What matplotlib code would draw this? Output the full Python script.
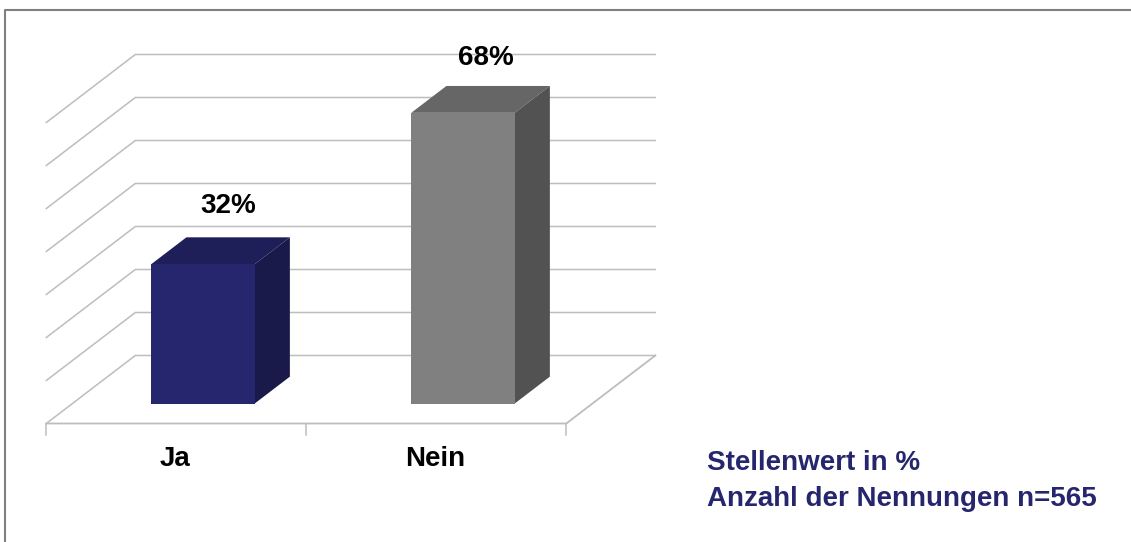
import matplotlib
matplotlib.use('Agg')
import matplotlib.pyplot as plt
from matplotlib.lines import Line2D
from matplotlib.patches import Polygon

categories = ['Ja', 'Nein']
values = [32.4, 67.6]
labels = ['32%', '68%']
grid_values = [0, 10, 20, 30, 40, 50, 60, 70]
front_colors = ['#26266E', '#808080']
top_colors = ['#1E1E58', '#666666']
side_colors = ['#1A1A4A', '#525252']

W, H = 1131, 542
plt.rcParams['font.family'] = ['Liberation Sans', 'DejaVu Sans']

fig = plt.figure(figsize=(W / 100, H / 100), dpi=100)

# axes box is the front plane of the fake 3d chart
ax = fig.add_axes([46.3 / W, 1 - 423.5 / H, 520 / W, 301 / H])
ax.set_xlim(0, 2)
ax.set_ylim(0, 70)
ax.axis('off')

# depth of the floor in data units
dx = 89 / 260
dy = 68 / 4.3
grid_col = '#BDBDBD'
floor_col = '#BDBDBD'

# gridlines: slanted on the left wall, flat along the back
for v in grid_values:
    ax.plot([0, dx, 2 + dx], [v, v + dy, v + dy], color=grid_col, lw=1.1, clip_on=False,
            solid_joinstyle='miter', zorder=1)

# floor
ax.plot([0, 2, 2 + dx], [0, 0, dy], color=floor_col, lw=1.3, clip_on=False, zorder=1)
for x in [0, 1, 2]:
    ax.plot([x, x], [0, -2.6], color=floor_col, lw=1.1, clip_on=False, zorder=1)

# bars sit part way into the floor
bar_w = 0.398
depth_start = 0.294
depth_size = 0.395
label_gap = [7.3, 6.4]
label_shift = [0.098, 0.088]
for i, v in enumerate(values):
    x0 = i + 0.5 - bar_w / 2 + depth_start * dx + 0.002
    x1 = x0 + bar_w
    y0 = depth_start * dy
    y1 = y0 + v
    ox = depth_size * dx
    oy = depth_size * dy
    ax.add_patch(Polygon([(x0, y1), (x1, y1), (x1 + ox, y1 + oy), (x0 + ox, y1 + oy)],
                         fc=top_colors[i], ec='none', clip_on=False, zorder=3))
    ax.add_patch(Polygon([(x1, y0), (x1 + ox, y0 + oy), (x1 + ox, y1 + oy), (x1, y1)],
                         fc=side_colors[i], ec='none', clip_on=False, zorder=3))
    ax.add_patch(Polygon([(x0, y0), (x1, y0), (x1, y1), (x0, y1)],
                         fc=front_colors[i], ec='none', clip_on=False, zorder=4))
    ax.text(x0 + bar_w / 2 + label_shift[i], y1 + oy + label_gap[i], labels[i], ha='center', va='center',
            fontsize=20, fontweight='bold', color='black', zorder=5)
    ax.text(i + 0.5 - 0.006, -8.3, categories[i],
            ha='center', va='center', fontsize=20, fontweight='bold', color='black')

fig.text(707 / W, 1 - 463.5 / H, 'Stellenwert in %', ha='left', va='center',
         fontsize=20, fontweight='bold', color='#26266E')
fig.text(707 / W, 1 - 498.5 / H, 'Anzahl der Nennungen n=565', ha='left', va='center',
         fontsize=20, fontweight='bold', color='#26266E')

# outer frame of the screenshot
fig.add_artist(Line2D([4.5 / W, 4.5 / W, 1], [0, 1 - 10 / H, 1 - 10 / H],
                      color='#808080', lw=1.5))

fig.savefig('out.png', dpi=100)
